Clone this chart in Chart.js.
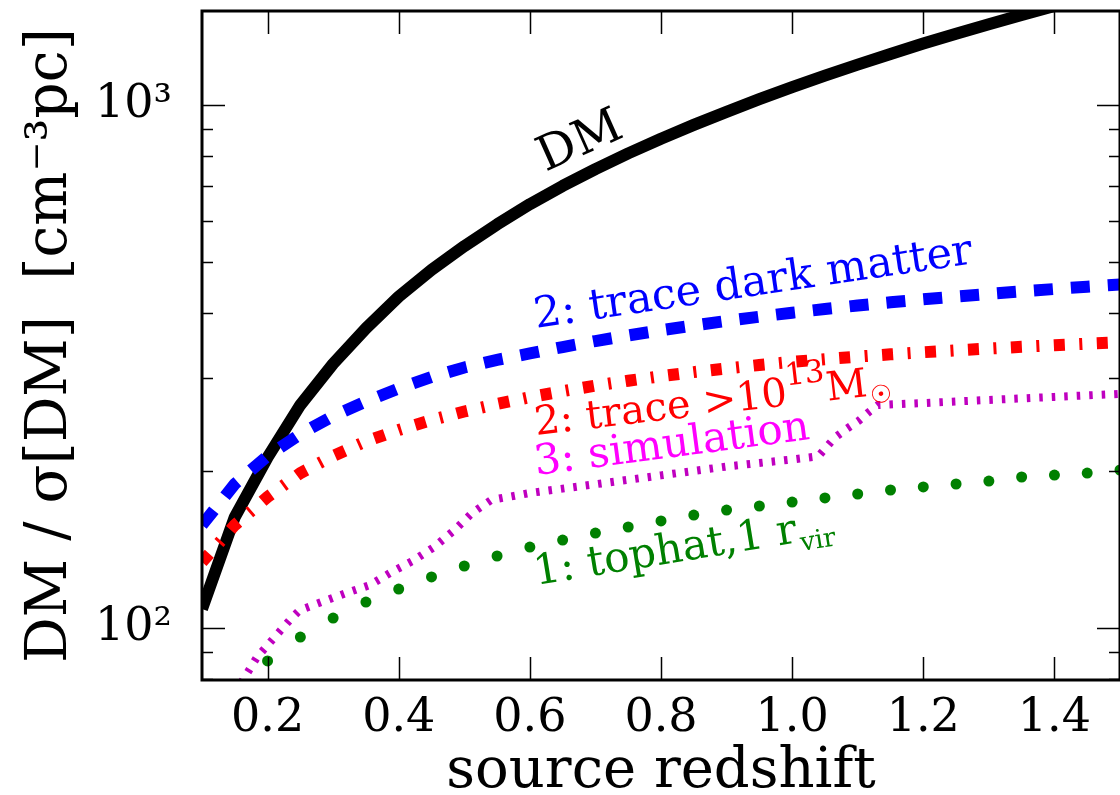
<!DOCTYPE html>
<html>
<head>
<meta charset="utf-8">
<script src="https://cdn.jsdelivr.net/npm/chart.js@4.4.1/dist/chart.umd.min.js"></script>
<style>
html,body{margin:0;padding:0;background:#ffffff;overflow:hidden;}
#wrap{position:relative;width:1120px;height:795px;}
</style>
</head>
<body>
<div id="wrap"><canvas id="chart"></canvas></div>
<script>
// ---------------- data ----------------
const redshift = [0.10,0.15,0.20,0.25,0.30,0.35,0.40,0.45,0.50,0.55,0.60,0.65,0.70,0.75,0.80,0.85,0.90,0.95,1.00,1.05,1.10,1.15,1.20,1.25,1.30,1.35,1.40,1.45,1.50];
const dmTotal = [108.7,163,212,267,320,374,430,484,537,591,646,700,754,808,862,916,970,1026,1082,1138,1194,1251,1310,1368,1426,1486,1546,1606,1666];
const traceDarkMatter = [157.3,188.5,213.3,234.9,254.3,271.0,287.0,301.9,314.8,325.6,334.9,344.5,353.7,362.4,370.9,378.8,386.5,393.7,400.7,407.2,413.6,419.5,425.0,430.3,435.2,440.1,444.7,449.3,453.7];
const traceMassive = [133.7,157.3,178.1,197.8,213.3,227.4,239.1,249.8,259.4,268.1,276.2,283.6,290.6,297.0,303.0,308.5,313.5,318.3,322.7,326.6,330.3,333.6,336.7,339.5,342.2,344.8,347.2,349.5,351.7];
const simRedshift = [0.15,0.184,0.234,0.249,0.284,0.32,0.356,0.389,0.421,0.454,0.485,0.512,0.541,0.6,0.7,0.8,0.9,1.0,1.04,1.065,1.083,1.102,1.117,1.131,1.2,1.3,1.4,1.5];
const simulation = [75,88,103.6,108.2,112.3,116.7,120.8,127.9,134.3,142.8,153.9,165.9,175.7,181.2,188.3,195.8,203.6,210,213,231.1,240.2,249.3,258.8,266.9,269.2,272.9,276.6,280.3];
const tophatRedshift = [0.20,0.25,0.30,0.35,0.40,0.45,0.50,0.55,0.60,0.65,0.70,0.75,0.80,0.85,0.90,0.95,1.00,1.05,1.10,1.15,1.20,1.25,1.30,1.35,1.40,1.45,1.50];
const tophat = [86.5,96.1,104.5,112.1,118.7,125.2,131.4,137.3,142.8,147.3,151.9,156,160.2,164.4,168.1,171.1,174.1,177.3,180.4,183.6,186.1,188.5,191,194.4,196.1,197.8,200.5];

const xTickValues = [0.2,0.4,0.6,0.8,1.0,1.2,1.4];
const yMajorTicks = [100,1000];
const yMinorTicks = [80,90,200,300,400,500,600,700,800,900];
const yTickLabels = {100:'10\u00B2',1000:'10\u00B3'};

const xTitle = 'source redshift';
const yTitle = 'DM / \u03C3[DM]  [cm\u207B\u00B3pc]';

// annotation texts (runs: normal / superscript / subscript)
const labelDM = [{t:'DM'}];
const labelTraceDM = [{t:'2: trace dark matter'}];
const labelTraceMassive = [{t:'2: trace >10'},{t:'13',sup:true},{t:'M'},{t:'\u2609',sub:true}];
const labelSimulation = [{t:'3: simulation'}];
const labelTophat = [{t:'1: tophat,1 r'},{t:'vir',sub:true}];

// ---------------- styling ----------------
const FONT = '"DejaVu Serif","Liberation Serif",serif';
const annotations = [
  {runs:labelDM, x:0.624, y:745, angle:-24, color:'#000000', size:48},
  {runs:labelTraceDM, x:0.6095, y:374.7, angle:-8.4, color:'#0000ff', size:43},
  {runs:labelTraceMassive, x:0.6095, y:233.9, angle:-6.7, color:'#ff0000', size:40},
  {runs:labelSimulation, x:0.6095, y:196.1, angle:-7.5, color:'#ff00ff', size:42},
  {runs:labelTophat, x:0.6095, y:120.8, angle:-9.3, color:'#008000', size:42}
];

const pts = (xs, ys) => xs.map((v,i)=>({x:v, y:ys[i]}));

const annotationPlugin = {
  id:'annotations',
  afterDatasetsDraw(chart){
    const {ctx, scales:{x, y}} = chart;
    for (const a of annotations){
      const px = x.getPixelForValue(a.x), py = y.getPixelForValue(a.y);
      ctx.save();
      ctx.translate(px, py);
      ctx.rotate(a.angle*Math.PI/180);
      ctx.fillStyle = a.color;
      ctx.textAlign = 'left';
      ctx.textBaseline = 'alphabetic';
      let cx = 0;
      for (const r of a.runs){
        let size = a.size, dy = 0, gap = 0;
        if (r.sup){ size = a.size*0.78; dy = -a.size*0.5; }
        if (r.sub){ size = a.size*0.62; dy = a.size*0.22; gap = 2; }
        ctx.font = size + 'px ' + FONT;
        ctx.fillText(r.t, cx + gap, dy);
        cx += gap + ctx.measureText(r.t).width;
      }
      ctx.restore();
    }
  }
};

const framePlugin = {
  id:'frame',
  afterDraw(chart){
    const {ctx, chartArea:{left, right, top, bottom}, scales:{x, y}} = chart;
    ctx.save();
    ctx.strokeStyle = '#000000';
    ctx.lineWidth = 1.5;
    ctx.beginPath();
    for (const v of xTickValues){
      const px = Math.round(x.getPixelForValue(v)) + 0.5;
      ctx.moveTo(px, bottom); ctx.lineTo(px, bottom-23);
      ctx.moveTo(px, top); ctx.lineTo(px, top+23);
    }
    for (const v of yMajorTicks){
      const py = Math.round(y.getPixelForValue(v)) + 0.5;
      ctx.moveTo(left, py); ctx.lineTo(left+23, py);
      ctx.moveTo(right, py); ctx.lineTo(right-23, py);
    }
    for (const v of yMinorTicks){
      const py = Math.round(y.getPixelForValue(v)) + 0.5;
      ctx.moveTo(left, py); ctx.lineTo(left+11, py);
      ctx.moveTo(right, py); ctx.lineTo(right-11, py);
    }
    ctx.stroke();
    ctx.lineWidth = 3;
    ctx.strokeRect(left, top, right-left, bottom-top);
    ctx.restore();
  }
};

const common = {pointRadius:0, fill:false, tension:0, clip:0, borderCapStyle:'butt', borderJoinStyle:'miter'};

new Chart(document.getElementById('chart'), {
  type:'line',
  data:{
    datasets:[
      Object.assign({label:'DM', data:pts(redshift, dmTotal), borderColor:'#000000', borderWidth:12, order:5}, common, {borderJoinStyle:'round'}),
      Object.assign({label:'2: trace dark matter', data:pts(redshift, traceDarkMatter), borderColor:'#0000ff', borderWidth:12, borderDash:[19,18], order:4}, common),
      Object.assign({label:'2: trace >1e13 Msun', data:pts(redshift, traceMassive), borderColor:'#ff0000', borderWidth:12, borderDash:[11,14.5,3,14.5], order:3}, common),
      Object.assign({label:'3: simulation', data:pts(simRedshift, simulation), borderColor:'#bf00bf', borderWidth:8, borderDash:[3.5,9], order:2}, common),
      {label:'1: tophat, 1 rvir', data:pts(tophatRedshift, tophat), showLine:false, pointRadius:5.5, pointBackgroundColor:'#008000', pointBorderWidth:0, pointBorderColor:'#008000', clip:0, order:1}
    ]
  },
  options:{
    responsive:true, maintainAspectRatio:false, animation:false, devicePixelRatio:1,
    layout:{autoPadding:false, padding:{top:11, right:-2, left:0, bottom:0}},
    plugins:{legend:{display:false}, tooltip:{enabled:false}},
    scales:{
      x:{
        type:'linear', min:0.1, max:1.5,
        grid:{display:false, drawTicks:false}, border:{display:false},
        ticks:{color:'#000000', font:{family:FONT, size:46}, padding:11, autoSkip:false, maxRotation:0, includeBounds:false,
               callback:(v)=>Number(v).toFixed(1)},
        title:{display:true, text:xTitle, color:'#000000', font:{family:FONT, size:56, lineHeight:0.8}, padding:{top:0,bottom:0}},
        afterBuildTicks:(s)=>{ s.ticks = xTickValues.map(v=>({value:v})); },
        afterFit:(s)=>{ s.height = 115; s.paddingLeft = 0; s.paddingRight = 0; }
      },
      y:{
        type:'logarithmic', min:79.55, max:1512,
        grid:{display:false, drawTicks:false}, border:{display:false},
        ticks:{color:'#000000', font:{family:FONT, size:46}, padding:30, autoSkip:false,
               callback:(v)=> yTickLabels[Math.round(v)] || ''},
        title:{display:true, text:yTitle, color:'#000000', font:{family:FONT, size:57, lineHeight:0.8}, padding:{top:28,bottom:0}},
        afterBuildTicks:(s)=>{ s.ticks = yMinorTicks.concat(yMajorTicks).sort((a,b)=>a-b).map(v=>({value:v})); },
        afterFit:(s)=>{ s.width = 202; s.paddingTop = 0; s.paddingBottom = 0; }
      }
    }
  },
  plugins:[annotationPlugin, framePlugin]
});
</script>
</body>
</html>
